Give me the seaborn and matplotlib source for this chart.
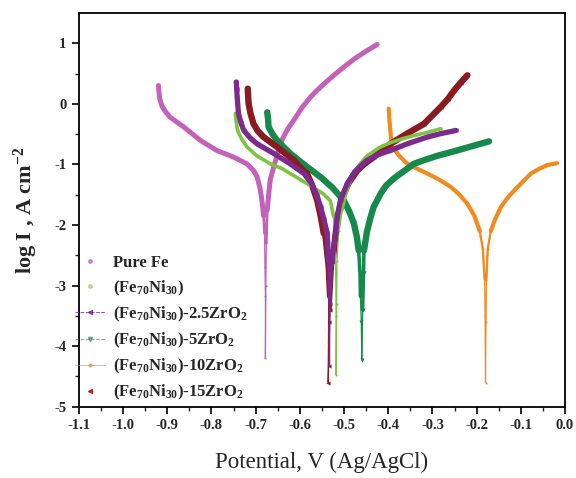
import numpy as np
import pandas as pd
import matplotlib
matplotlib.use("Agg")
import matplotlib.pyplot as plt
from matplotlib.lines import Line2D
import seaborn as sns

# Potentiodynamic polarization (Tafel) curves: potential (V vs Ag/AgCl) and log current density
pure_fe_v = [-0.920, -0.919, -0.917, -0.912, -0.904, -0.894, -0.863, -0.826, -0.788, -0.750, -0.720,
             -0.705, -0.697, -0.690, -0.686, -0.682, -0.680, -0.679, -0.678, -0.678,
             -0.677, -0.676, -0.674, -0.670, -0.667, -0.659, -0.650, -0.641, -0.628, -0.612,
             -0.595, -0.575, -0.550, -0.525, -0.500, -0.475, -0.450, -0.425]
pure_fe_i = [0.30, 0.20, 0.08, -0.04, -0.13, -0.22, -0.38, -0.60, -0.77, -0.88, -0.99,
             -1.10, -1.20, -1.40, -1.59, -1.85, -2.14, -2.70, -3.18, -4.20,
             -3.00, -2.30, -1.76, -1.45, -1.25, -1.04, -0.80, -0.60, -0.42, -0.25,
             -0.06, 0.12, 0.30, 0.46, 0.61, 0.75, 0.87, 0.98]

feni_v = [-0.746, -0.744, -0.741, -0.732, -0.720, -0.697, -0.667, -0.640, -0.622, -0.599,
          -0.570, -0.548, -0.531, -0.524, -0.520, -0.519, -0.518, -0.518,
          -0.517, -0.516, -0.512, -0.505, -0.497, -0.485, -0.467, -0.448, -0.420, -0.395,
          -0.365, -0.334, -0.305, -0.281]
feni_i = [-0.16, -0.30, -0.44, -0.58, -0.71, -0.86, -0.99, -1.07, -1.15, -1.25,
          -1.38, -1.48, -1.60, -1.85, -2.14, -2.80, -3.50, -4.47,
          -3.30, -2.60, -2.10, -1.75, -1.50, -1.25, -1.02, -0.86, -0.72, -0.64,
          -0.57, -0.51, -0.46, -0.41]

zr25_v = [-0.744, -0.743, -0.742, -0.739, -0.734, -0.727, -0.713, -0.697, -0.659, -0.622,
          -0.591, -0.575, -0.562, -0.553, -0.546, -0.538, -0.535, -0.534, -0.533,
          -0.532, -0.528, -0.519, -0.516, -0.508, -0.493, -0.476, -0.448, -0.420, -0.395,
          -0.357, -0.312, -0.280, -0.247]
zr25_i = [0.36, 0.25, 0.11, -0.16, -0.30, -0.44, -0.56, -0.66, -0.82, -0.99,
          -1.15, -1.30, -1.50, -1.70, -1.90, -2.14, -2.60, -3.20, -4.33,
          -3.30, -2.60, -2.14, -1.87, -1.59, -1.32, -1.12, -0.93, -0.83, -0.77,
          -0.66, -0.55, -0.49, -0.44]

zr5_v = [-0.674, -0.672, -0.671, -0.662, -0.652, -0.622, -0.584, -0.553, -0.527, -0.501,
         -0.488, -0.478, -0.471, -0.467, -0.464, -0.463, -0.461, -0.460,
         -0.458, -0.456, -0.455, -0.448, -0.440, -0.433, -0.417, -0.405, -0.387, -0.372,
         -0.342, -0.319, -0.290, -0.259, -0.206, -0.172]
zr5_i = [-0.14, -0.25, -0.38, -0.50, -0.60, -0.82, -1.04, -1.21, -1.38, -1.59,
         -1.78, -1.97, -2.20, -2.42, -2.80, -3.18, -3.60, -4.23,
         -3.40, -2.80, -2.42, -2.10, -1.87, -1.70, -1.48, -1.35, -1.23, -1.15,
         -0.99, -0.93, -0.86, -0.80, -0.69, -0.62]

zr10_v = [-0.399, -0.398, -0.396, -0.394, -0.391, -0.375, -0.357, -0.335, -0.312, -0.285,
          -0.259, -0.240, -0.221, -0.205, -0.193, -0.186, -0.182, -0.181, -0.180,
          -0.179, -0.178, -0.175, -0.168, -0.158, -0.145, -0.130, -0.115, -0.095, -0.077,
          -0.058, -0.040, -0.018]
zr10_i = [-0.08, -0.22, -0.38, -0.55, -0.71, -0.86, -0.99, -1.07, -1.15, -1.25,
          -1.37, -1.49, -1.65, -1.85, -2.10, -2.40, -2.90, -3.50, -4.60,
          -3.60, -2.90, -2.40, -2.10, -1.90, -1.70, -1.55, -1.43, -1.28, -1.15,
          -1.07, -1.01, -0.98]

zr15_v = [-0.718, -0.717, -0.716, -0.712, -0.705, -0.695, -0.682, -0.652, -0.614, -0.599,
          -0.584, -0.572, -0.561, -0.553, -0.546, -0.538, -0.535, -0.535, -0.536,
          -0.532, -0.526, -0.519, -0.514, -0.506, -0.491, -0.470, -0.452, -0.433, -0.395,
          -0.357, -0.319, -0.300, -0.281, -0.265, -0.251, -0.236, -0.221]
zr15_i = [0.25, 0.12, 0.00, -0.15, -0.33, -0.45, -0.55, -0.71, -0.93, -1.05,
          -1.15, -1.35, -1.59, -1.85, -2.14, -2.69, -3.18, -3.60, -4.60,
          -3.40, -2.60, -2.14, -1.87, -1.59, -1.32, -1.10, -0.98, -0.88, -0.66,
          -0.49, -0.33, -0.19, -0.05, 0.08, 0.22, 0.35, 0.47]

labels = ["Pure Fe",
          r"(Fe$_{70}$Ni$_{30}$)",
          r"(Fe$_{70}$Ni$_{30}$)-2.5ZrO$_2$",
          r"(Fe$_{70}$Ni$_{30}$)-5ZrO$_2$",
          r"(Fe$_{70}$Ni$_{30}$)-10ZrO$_2$",
          r"(Fe$_{70}$Ni$_{30}$)-15ZrO$_2$"]
x_ticks = [-1.1, -1.0, -0.9, -0.8, -0.7, -0.6, -0.5, -0.4, -0.3, -0.2, -0.1, 0.0]
y_ticks = [-5, -4, -3, -2, -1, 0, 1]

series = [(pure_fe_v, pure_fe_i), (feni_v, feni_i), (zr25_v, zr25_i),
          (zr5_v, zr5_i), (zr10_v, zr10_i), (zr15_v, zr15_i)]
colors = ["#C462B9", "#80C343", "#7C2A8C", "#178A4B", "#F28A1F", "#8A1B20"]
markers = [".", ".", "<", "v", ".", "<"]
# line widths of the dense part of each scan, and the levels where the dense
# trace narrows and then gives way to sparse points near the corrosion potential
widths = [3.6, 2.6, 3.8, 4.6, 3.0, 4.6]
narrow_at = [-1.9, -1.9, -2.6, -2.6, -2.2, -2.6]
sparse_at = [-2.6, -2.5, -3.4, -3.4, -2.9, -3.4]

sns.set_style("ticks")
plt.rcParams["font.family"] = ["Liberation Serif", "DejaVu Serif"]
plt.rcParams["mathtext.fontset"] = "custom"
plt.rcParams["mathtext.rm"] = "Liberation Serif:bold"
plt.rcParams["mathtext.default"] = "rm"

fig = plt.figure(figsize=(5.76, 4.78), dpi=100)
ax = fig.add_axes([0.137, 0.149, 0.844, 0.824])

order = [0, 4, 3, 5, 1, 2]
for k in order:
    v, i = series[k]
    df = pd.DataFrame({"v": v, "i": i})
    sns.lineplot(data=df, x="v", y="i", sort=False, estimator=None, ax=ax,
                 color=colors[k], linewidth=0.9, marker=markers[k], markersize=3,
                 markeredgewidth=0)
    mid = df.copy()
    mid.loc[mid["i"] < sparse_at[k], "i"] = np.nan
    ax.plot(mid["v"], mid["i"], color=colors[k], linewidth=widths[k] * 0.55,
            solid_capstyle="round", solid_joinstyle="round")
    thick = df.copy()
    thick.loc[thick["i"] < narrow_at[k], "i"] = np.nan
    ax.plot(thick["v"], thick["i"], color=colors[k], linewidth=widths[k],
            solid_capstyle="round", solid_joinstyle="round")

ax.set_xlim(-1.1, 0.0)
ax.set_ylim(-5, 1.5)
ax.set_xticks(x_ticks)
ax.set_xticklabels([f"{t:.1f}" for t in x_ticks])
ax.set_yticks(y_ticks)
ax.set_yticklabels([str(t) for t in y_ticks])
ax.set_xticks(np.arange(-1.05, 0.0, 0.1), minor=True)
ax.set_yticks(np.arange(-4.5, 1.5, 1.0), minor=True)
ax.tick_params(axis="both", which="major", direction="out", length=5, width=1.4,
               labelsize=10.5, pad=4)
ax.tick_params(axis="both", which="minor", direction="out", length=3, width=1.0)
for lab in ax.get_xticklabels() + ax.get_yticklabels():
    lab.set_fontweight("bold")
for sp in ax.spines.values():
    sp.set_visible(True)
    sp.set_linewidth(1.3)
    sp.set_color("black")

ax.set_xlabel("Potential, V (Ag/AgCl)", fontsize=16.5, labelpad=14)
ax.set_ylabel(r"log I , A cm$^{-2}$", fontsize=16, fontweight="bold", labelpad=10)

handles = [
    Line2D([], [], color=colors[0], linestyle="none", marker=".", markersize=5, alpha=0.7),
    Line2D([], [], color=colors[1], linestyle="none", marker=".", markersize=5, alpha=0.5),
    Line2D([], [], color=colors[2], linestyle="--", linewidth=0.7, marker="<", markersize=3, alpha=0.8),
    Line2D([], [], color=colors[3], linestyle="--", linewidth=0.7, marker="v", markersize=3, alpha=0.6),
    Line2D([], [], color=colors[4], linestyle="-", linewidth=0.7, marker=".", markersize=4, alpha=0.6),
    Line2D([], [], color=colors[5], linestyle="none", marker="<", markersize=3, alpha=0.8),
]
leg = ax.legend(handles, labels, loc="lower left", frameon=False,
                prop={"family": "Liberation Serif", "weight": "bold", "size": 12},
                labelspacing=0.42, handlelength=1.8, handletextpad=0.5,
                borderaxespad=0.1, bbox_to_anchor=(-0.025, -0.01))

fig.savefig("out.png", dpi=100, facecolor="white")
